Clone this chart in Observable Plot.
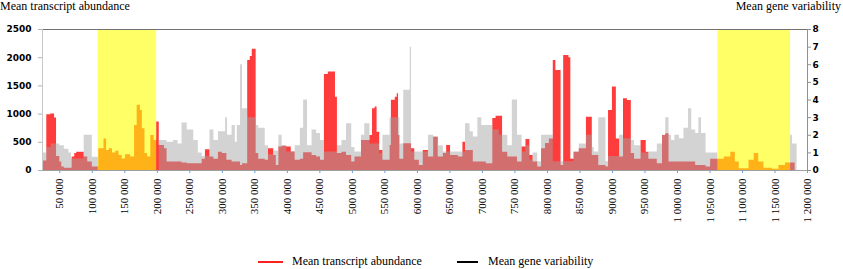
<!DOCTYPE html>
<html>
<head>
<meta charset="utf-8">
<script src="https://cdn.jsdelivr.net/npm/d3@7"></script>
<script src="https://cdn.jsdelivr.net/npm/@observablehq/plot@0.6"></script>
<style>
  html, body { margin: 0; padding: 0; background: #fff; }
  #wrap { position: relative; width: 843px; height: 269px; overflow: hidden; }
  #wrap svg { position: absolute; left: 0; top: 0; }
  .ttl { position: absolute; font-family: "Liberation Serif", serif; font-size: 12px; line-height: 13px; color: #000; white-space: nowrap; }
  .leg { position: absolute; height: 2px; }
  #wrap svg g[aria-label="x-axis tick label"] text { font-family: "Liberation Serif", serif; font-size: 11px; fill: #000; }
  #wrap svg g[aria-label="y-axis tick label"] text { font-family: "DejaVu Sans", sans-serif; font-size: 9px; font-weight: bold; fill: #000; }
</style>
</head>
<body>
<div id="wrap">
  <div class="ttl" style="left:0px; top:0px;">Mean transcript abundance</div>
  <div class="ttl" style="right:2px; top:0px;">Mean gene variability</div>
  <div class="leg" style="left:258px; top:261px; width:25px; background:#ff2020;"></div>
  <div class="ttl" style="left:292px; top:255px;">Mean transcript abundance</div>
  <div class="leg" style="left:457px; top:261px; width:21px; background:#000;"></div>
  <div class="ttl" style="left:488px; top:255px;">Mean gene variability</div>
</div>
<script>
// ---- data ----
// Mean transcript abundance: step segments (start position, value), last segment ends at redEnd
const redStart = [23400,30000,36000,42000,45000,50000,53000,57000,69000,73000,76000,87500,93000,100000,
  110000,118000,122000,126000,131000,136000,141000,146000,151000,159000,165000,169000,174000,177000,181000,185000,190000,195000,
  199000,203000,211000,215000,238000,246000,269000,274000,281000,287000,294000,300000,307000,315000,328000,331000,
  339000,343000,346000,352000,356000,366000,371000,379000,383000,387000,392000,399000,406000,412000,420000,425000,438000,445000,451000,
  457000,463000,474000,477000,484000,491000,499000,504000,514000,527000,531000,535000,538000,542000,547000,558000,560000,566000,569000,
  571000,573000,579000,591000,596000,603000,609000,617000,625000,632000,640000,645000,651000,663000,670000,674000,686000,706000,
  716000,721000,731000,739000,754000,761000,767000,773000,778000,785000,791000,797000,803000,809000,813000,821000,825000,833000,
  836000,841000,849000,860000,869000,879000,890000,894000,900000,906000,911000,917000,923000,929000,934000,944000,952000,956000,
  969000,977000,982000,987000,1028000,1044000,1051000,1072000,1082000,1089000,1095000,1110000,1118000,1125000,1133000,1146000,1156000,1166000];
const redValue = [170,990,1000,930,250,150,60,40,240,300,325,240,150,60,
  385,560,355,385,310,340,265,205,280,240,800,1155,1065,740,300,240,620,530,
  860,445,385,150,135,120,200,370,240,200,325,300,180,150,90,120,
  1950,2020,2150,300,200,180,385,265,90,415,430,415,330,180,200,315,265,240,180,
  1700,1745,1300,300,325,265,150,240,530,620,1095,1125,680,355,180,445,1245,1300,1360,
  620,200,475,385,180,90,355,240,590,240,300,445,265,240,500,355,150,120,
  920,960,325,240,150,415,550,265,150,60,385,480,560,1950,1775,90,2040,2000,
  200,325,385,945,265,90,60,1065,1480,560,240,1270,1240,300,200,530,325,200,
  120,620,650,150,90,60,200,240,325,150,30,180,300,150,40,20,90,135];
const redEnd = 1181000;

// Mean gene variability: step segments (start position, value), last segment ends at greyEnd
const greyStart = [23400,30000,37000,45000,50000,57000,64000,68000,87500,100000,110000,
  203000,215000,225000,232000,238000,246000,256000,263000,269000,281000,287000,294000,305000,308000,315000,320000,323000,
  328000,331000,339000,352000,356000,366000,371000,379000,387000,392000,399000,412000,420000,425000,431000,438000,445000,451000,
  457000,477000,484000,491000,499000,504000,514000,519000,527000,542000,547000,558000,573000,579000,589000,591000,617000,625000,
  632000,640000,674000,681000,686000,693000,699000,716000,726000,739000,746000,754000,761000,767000,773000,778000,785000,791000,
  809000,841000,849000,860000,869000,872000,879000,890000,894000,911000,917000,929000,934000,944000,956000,969000,977000,982000,
  987000,991000,996000,1003000,1010000,1017000,1022000,1028000,1033000,1037000,1044000,1062000,1174000,1177000];
const greyValue = [1.0,1.3,1.5,1.5,1.4,1.2,1.0,0.65,2.0,0.75,0,
  1.7,1.6,1.7,1.5,2.7,2.3,1.7,1.0,0.8,2.3,1.7,2.2,3.0,2.0,2.55,1.6,2.55,
  6.0,3.5,3.0,2.55,2.4,1.4,0.9,1.1,2.0,1.4,1.05,1.4,2.4,4.0,1.4,2.3,2.1,1.7,
  1.05,1.4,1.7,2.65,1.3,1.05,2.0,2.65,1.5,0.95,2.0,3.0,1.5,4.55,7.0,1.05,2.0,1.9,
  1.4,1.05,2.65,2.2,1.9,3.0,2.55,2.3,2.0,1.4,4.0,2.0,1.05,1.4,0.6,1.0,0.5,2.0,
  0.5,1.05,1.5,2.0,1.3,1.05,3.0,0.5,0.8,2.0,1.8,1.7,1.4,1.0,1.05,1.5,2.0,3.0,
  2.0,1.7,2.0,1.8,2.4,3.5,2.3,2.1,3.0,2.1,1.0,0,2.0,1.5];
const greyEnd = 1184000;

// highlighted regions
const highlightStart = [109000, 1062000];
const highlightEnd = [199000, 1174000];

// axes
const xDomain = [23400, 1200000];
const xTicks = d3.range(50000, 1200001, 50000);
const leftTicks = [0, 500, 1000, 1500, 2000, 2500];
const rightTicks = [0, 1, 2, 3, 4, 5, 6, 7, 8];
const leftMax = 2500, rightMax = 8;

// ---- build ----
const k = leftMax / rightMax;
function steps(starts, values, end, scale) {
  const rows = starts.map((s, i) => ({x: s, y: values[i] * scale}));
  rows.push({x: end, y: values[values.length - 1] * scale});
  return rows;
}
const redRows = steps(redStart, redValue, redEnd, 1);
const greyRows = steps(greyStart, greyValue, greyEnd, k);
const highlights = highlightStart.map((s, i) => ({x1: s, x2: highlightEnd[i]}));
const fmt = d3.formatLocale({decimal: ".", thousands: " ", grouping: [3], currency: ["", ""]}).format(",");

const chart = Plot.plot({
  width: 843,
  height: 269,
  marginTop: 29,
  marginBottom: 99,
  marginLeft: 42,
  marginRight: 36,
  style: {background: "transparent", overflow: "visible"},
  x: {domain: xDomain},
  y: {domain: [0, leftMax]},
  marks: [
    Plot.areaY(redRows, {x: "x", y1: 0, y2: "y", curve: "step-after", fill: "#ff3c3c"}),
    Plot.areaY(greyRows, {x: "x", y1: 0, y2: "y", curve: "step-after", fill: "#a4a4a4", fillOpacity: 0.485}),
    Plot.rect(highlights, {x1: "x1", x2: "x2", y1: 0, y2: leftMax, fill: "#ffff00", fillOpacity: 0.6}),
    Plot.ruleY([0], {stroke: "#a0a0a0"}),
    Plot.ruleY([leftMax], {stroke: "#707070", strokeWidth: 1.2}),
    Plot.ruleX([xDomain[0]], {stroke: "#c8c8c8"}),
    Plot.ruleX([xDomain[1]], {stroke: "#909090"}),
    Plot.axisX({ticks: xTicks, tickFormat: fmt, tickRotate: -90, tickSize: 3, tickPadding: 5,
      stroke: "#6a9fd8", fill: "#000", label: null}),
    Plot.axisY({anchor: "left", ticks: leftTicks, tickFormat: d => String(d), tickSize: 4, tickPadding: 7,
      stroke: "#b0b0b0", fill: "#000", label: null}),
    Plot.axisY({anchor: "right", ticks: rightTicks.map(v => v * k), tickFormat: d => String(Math.round(d / k)),
      tickSize: 3, tickPadding: 2, stroke: "#909090", fill: "#000", label: null})
  ]
});
document.getElementById("wrap").prepend(chart);
</script>
</body>
</html>
